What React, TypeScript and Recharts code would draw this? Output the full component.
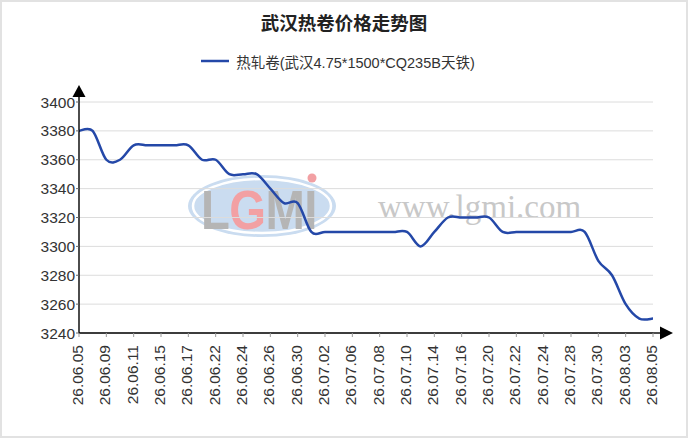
import React from "react";
import { LineChart, Line, XAxis, YAxis, CartesianGrid, Legend } from "recharts";

// 武汉热卷价格走势图 — daily quotes, every other date labelled

const dates = [
  "26.06.05", "26.06.08", "26.06.09", "26.06.10", "26.06.11", "26.06.12",
  "26.06.15", "26.06.16", "26.06.17", "26.06.18", "26.06.22", "26.06.23",
  "26.06.24", "26.06.25", "26.06.26", "26.06.29", "26.06.30", "26.07.01",
  "26.07.02", "26.07.03", "26.07.06", "26.07.07", "26.07.08", "26.07.09",
  "26.07.10", "26.07.13", "26.07.14", "26.07.15", "26.07.16", "26.07.17",
  "26.07.20", "26.07.21", "26.07.22", "26.07.23", "26.07.24", "26.07.27",
  "26.07.28", "26.07.29", "26.07.30", "26.07.31", "26.08.03", "26.08.04",
  "26.08.05",
];

const prices = [
  3380, 3380, 3360, 3360, 3370, 3370,
  3370, 3370, 3370, 3360, 3360, 3350,
  3350, 3350, 3340, 3330, 3330, 3310,
  3310, 3310, 3310, 3310, 3310, 3310,
  3310, 3300, 3310, 3320, 3320, 3320,
  3320, 3310, 3310, 3310, 3310, 3310,
  3310, 3310, 3290, 3280, 3260, 3250,
  3250,
];

const yTicks = [3240, 3260, 3280, 3300, 3320, 3340, 3360, 3380, 3400];

const title = "武汉热卷价格走势图";
const seriesName = "热轧卷(武汉4.75*1500*CQ235B天铁)";

const chartData = dates.map((date, i) => ({ date, price: prices[i] }));

const LINE_COLOR = "#2448a8";
const LABEL_FONT = "'Liberation Sans', Arial, sans-serif";

// Catmull-Rom style curve (passes through points, slight overshoot like the original)
const smoothCurve = (context: any) => {
  let xs: number[] = [];
  let ys: number[] = [];
  return {
    areaStart() {},
    areaEnd() {},
    lineStart() {
      xs = [];
      ys = [];
    },
    lineEnd() {
      const n = xs.length;
      if (n === 0) return;
      context.moveTo(xs[0], ys[0]);
      for (let i = 0; i < n - 1; i++) {
        const a = Math.max(i - 1, 0);
        const d = Math.min(i + 2, n - 1);
        context.bezierCurveTo(
          xs[i] + (xs[i + 1] - xs[a]) / 6,
          ys[i] + (ys[i + 1] - ys[a]) / 6,
          xs[i + 1] - (xs[d] - xs[i]) / 6,
          ys[i + 1] - (ys[d] - ys[i]) / 6,
          xs[i + 1],
          ys[i + 1]
        );
      }
    },
    point(x: number, y: number) {
      xs.push(+x);
      ys.push(+y);
    },
  };
};

const DateTick = ({ x, y, payload }: any) => (
  <text
    x={x}
    y={y}
    dy="0.25em"
    transform={`rotate(-90 ${x} ${y})`}
    textAnchor="end"
    fontSize={15.5}
    fontFamily={LABEL_FONT}
    fill="#333"
  >
    {payload.value}
  </text>
);

const LegendContent = () => (
  <div
    style={{
      display: "flex",
      justifyContent: "center",
      alignItems: "center",
      paddingRight: 12,
      height: 22,
      fontFamily: "'Liberation Sans', Arial, 'Noto Sans CJK SC', sans-serif",
      fontSize: 14.5,
      color: "#333",
    }}
  >
    <svg width={28} height={6} style={{ marginRight: 7 }}>
      <line x1={0} y1={3} x2={28} y2={3} stroke={LINE_COLOR} strokeWidth={2.5} />
    </svg>
    <span>{seriesName}</span>
  </div>
);

// background logo stamp of the source site
const logoLetters = [
  { ch: "L", dx: 0, fill: "#b5b5b5" },
  { ch: "G", dx: 33, fill: "#f2a0a3" },
  { ch: "M", dx: 75, fill: "#b5b5b5" },
  { ch: "I", dx: 120, fill: "#b5b5b5" },
];

const Watermark = () => (
  <svg
    width={688}
    height={438}
    style={{ position: "absolute", left: 0, top: 0 }}
  >
    <ellipse cx={262} cy={206} rx={74} ry={31} fill="#cadcf0" />
    <ellipse cx={262} cy={206} rx={69} ry={27} fill="none" stroke="#fff" strokeWidth={2.5} />
    <g transform="translate(201 229) scale(0.86 1)">
      {logoLetters.map((l) => (
        <text
          key={l.ch}
          x={l.dx}
          y={0}
          fontSize={55}
          fontWeight="bold"
          fontFamily={LABEL_FONT}
          fill={l.fill}
        >
          {l.ch}
        </text>
      ))}
    </g>
    <circle cx={312} cy={178} r={4.5} fill="#f2a0a3" />
    <text
      x={378}
      y={218}
      fontSize={33}
      fontFamily="'Liberation Serif', 'Times New Roman', serif"
      fill="#c8c8c8"
    >
      www.lgmi.com
    </text>
  </svg>
);

export default function App() {
  return (
    <div
      style={{
        position: "absolute",
        left: 0,
        top: 0,
        width: 688,
        height: 438,
        background: "#fff",
        overflow: "hidden",
      }}
    >
      <svg width={0} height={0} style={{ position: "absolute" }}>
        <defs>
          <marker
            id="arrowY"
            markerUnits="userSpaceOnUse"
            orient="auto-start-reverse"
            refX={0}
            refY={0}
            markerWidth={30}
            markerHeight={30}
            overflow="visible"
          >
            <line x1={0} y1={0} x2={6} y2={0} stroke="#000" strokeWidth={1.4} />
            <path d="M5,-6.5 L17,0 L5,6.5 Z" fill="#000" />
          </marker>
          <marker
            id="arrowX"
            markerUnits="userSpaceOnUse"
            orient="auto"
            refX={0}
            refY={0}
            markerWidth={30}
            markerHeight={30}
            overflow="visible"
          >
            <line x1={0} y1={0} x2={8} y2={0} stroke="#000" strokeWidth={1.4} />
            <path d="M7,-6.5 L20,0 L7,6.5 Z" fill="#000" />
          </marker>
        </defs>
      </svg>

      <Watermark />

      <div
        style={{
          position: "absolute",
          left: 0,
          top: 10,
          width: 688,
          textAlign: "center",
          fontFamily: "'Noto Sans CJK SC', sans-serif",
          fontWeight: "bold",
          fontSize: 18.5,
          lineHeight: "24px",
          color: "#222",
        }}
      >
        {title}
      </div>

      <div style={{ position: "absolute", left: 0, top: 0 }}>
        <LineChart
          width={688}
          height={438}
          data={chartData}
          margin={{ top: 102, right: 35, bottom: 10, left: 8 }}
        >
          <CartesianGrid horizontal vertical={false} stroke="#dcdcdc" strokeWidth={1} />
          <XAxis
            dataKey="date"
            interval={1}
            height={95}
            tickSize={4}
            tickMargin={8}
            tick={<DateTick />}
            tickLine={{ stroke: "#999" }}
            axisLine={{ stroke: "#000", strokeWidth: 1.4, markerEnd: "url(#arrowX)" }}
          />
          <YAxis
            domain={[3240, 3400]}
            ticks={yTicks}
            width={71}
            tickSize={3}
            tickMargin={1}
            tick={{ fontSize: 15.5, fontFamily: LABEL_FONT, fill: "#333" }}
            tickLine={{ stroke: "#666" }}
            axisLine={{ stroke: "#000", strokeWidth: 1.4, markerStart: "url(#arrowY)" }}
          />
          <Legend
            layout="horizontal"
            verticalAlign="middle"
            align="center"
            wrapperStyle={{ top: 50, left: 0, width: 688 }}
            content={<LegendContent />}
          />
          <Line
            dataKey="price"
            name={seriesName}
            type={smoothCurve as any}
            stroke={LINE_COLOR}
            strokeWidth={2.5}
            dot={false}
            activeDot={false}
            isAnimationActive={false}
          />
        </LineChart>
      </div>

      <div
        style={{
          position: "absolute",
          left: 0,
          top: 0,
          width: 688,
          height: 438,
          boxSizing: "border-box",
          border: "2px solid #e2e2e2",
          pointerEvents: "none",
        }}
      />
    </div>
  );
}
